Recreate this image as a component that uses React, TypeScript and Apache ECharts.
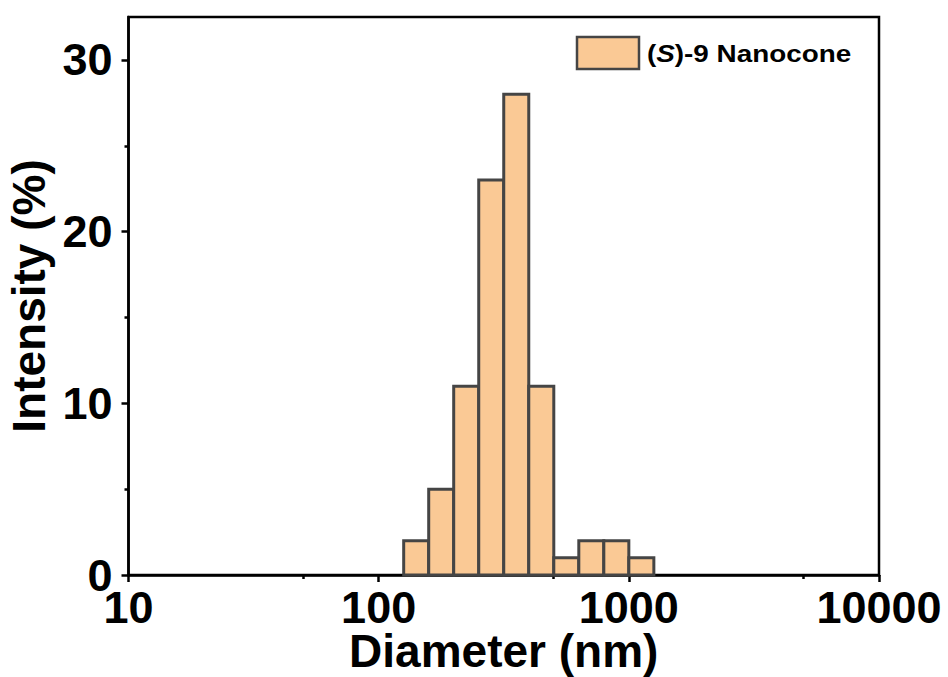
import React, { useEffect, useRef } from "react";
import * as echarts from "echarts";

// Histogram bins (nm): lower and upper edge of each bin, and intensity (%)
const binLower = [125.9, 158.5, 199.5, 251.2, 316.2, 398.1, 501.2, 631.0, 794.3, 1000.0];
const binUpper = [158.5, 199.5, 251.2, 316.2, 398.1, 501.2, 631.0, 794.3, 1000.0, 1258.9];
const intensity = [2, 5, 11, 23, 28, 11, 1, 2, 2, 1];

const xMajorTicks = [10, 100, 1000, 10000];
const xMinorTicks = [50, 500, 5000];
const yMajorTicks = [0, 10, 20, 30];
const yMinorTicks = [5, 15, 25];

const seriesName = "(S)-9 Nanocone";
const xTitle = "Diameter (nm)";
const yTitle = "Intensity (%)";

const FONT = "'Liberation Sans', Arial, sans-serif";
const FILL = "#FAC995";
const EDGE = "#454545";

export default function App() {
  const ref = useRef<HTMLDivElement>(null);
  useEffect(() => {
    if (!ref.current) return;
    const chart = echarts.init(ref.current, undefined, { renderer: "svg" });
    const data = binLower.map((lo, i) => [lo, binUpper[i], intensity[i]]);
    const labelStyle = { fontFamily: FONT, fontWeight: "bold" as const, fontSize: 45, color: "#000" };
    chart.setOption({
      animation: false,
      grid: {
        left: 128.5,
        right: 69,
        top: 17,
        bottom: 102,
        outerBoundsMode: "none",
        containLabel: false,
        show: true,
        borderColor: "#000",
        borderWidth: 2.5,
        backgroundColor: "transparent",
      },
      xAxis: [
        {
          type: "log",
          logBase: 10,
          min: 10,
          max: 10000,
          position: "bottom",
          name: xTitle,
          nameLocation: "middle",
          nameGap: 58,
          nameMoveOverlap: false,
          nameTextStyle: { fontFamily: FONT, fontWeight: "bold", fontSize: 46, lineHeight: 36, color: "#000" },
          axisLine: { show: true, lineStyle: { color: "#000", width: 2.5 } },
          axisTick: { show: true, inside: false, length: 7, customValues: xMajorTicks, lineStyle: { color: "#000", width: 2.5 } },
          axisLabel: { ...labelStyle, lineHeight: 34, margin: 15.5, customValues: xMajorTicks, formatter: (v: number) => String(Math.round(v)) },
          splitLine: { show: false },
          minorTick: { show: false },
        },
        {
          type: "log",
          logBase: 10,
          min: 10,
          max: 10000,
          position: "bottom",
          axisLine: { show: false },
          axisTick: { show: true, inside: false, length: 4, customValues: xMinorTicks, lineStyle: { color: "#000", width: 2.5 } },
          axisLabel: { show: false },
          splitLine: { show: false },
        },
      ],
      yAxis: [
        {
          type: "value",
          min: 0,
          max: 32.5,
          interval: 10,
          position: "left",
          name: yTitle,
          nameLocation: "middle",
          nameGap: 77,
          nameMoveOverlap: false,
          nameTextStyle: { fontFamily: FONT, fontWeight: "bold", fontSize: 46, color: "#000" },
          axisLine: { show: true, lineStyle: { color: "#000", width: 2.5 } },
          axisTick: { show: true, inside: false, length: 7, customValues: yMajorTicks, lineStyle: { color: "#000", width: 2.5 } },
          axisLabel: { ...labelStyle, lineHeight: 30, margin: 16, customValues: yMajorTicks },
          splitLine: { show: false },
        },
        {
          type: "value",
          min: 0,
          max: 32.5,
          interval: 5,
          position: "left",
          axisLine: { show: false },
          axisTick: { show: true, inside: false, length: 4, customValues: yMinorTicks, lineStyle: { color: "#000", width: 2.5 } },
          axisLabel: { show: false },
          splitLine: { show: false },
        },
      ],
      series: [
        {
          type: "custom",
          name: seriesName,
          xAxisIndex: 0,
          yAxisIndex: 0,
          data,
          encode: { x: [0, 1], y: 2 },
          renderItem: (params: any, api: any) => {
            const p0 = api.coord([api.value(0), api.value(2)]);
            const p1 = api.coord([api.value(1), 0]);
            return {
              type: "rect",
              shape: { x: p0[0], y: p0[1], width: p1[0] - p0[0], height: p1[1] - p0[1] },
              style: { fill: FILL, stroke: EDGE, lineWidth: 3 },
            };
          },
        },
      ],
      graphic: [
        {
          type: "rect",
          shape: { x: 577, y: 37, width: 62, height: 32 },
          style: { fill: FILL, stroke: EDGE, lineWidth: 2.5 },
        },
        {
          type: "text",
          x: 647,
          y: 54,
          scaleX: 1.16,
          style: {
            text: "{n|(}{i|S}{n|)-9 Nanocone}",
            verticalAlign: "middle",
            align: "left",
            rich: {
              n: { fontFamily: FONT, fontWeight: "bold", fontSize: 24, fill: "#000" },
              i: { fontFamily: FONT, fontWeight: "bold", fontStyle: "italic", fontSize: 24, fill: "#000" },
            },
          },
        },
      ],
    });
    return () => chart.dispose();
  }, []);
  return (
    <div
      ref={ref}
      style={{ position: "absolute", left: 0, top: 0, width: 948, height: 677, background: "#fff" }}
    />
  );
}
